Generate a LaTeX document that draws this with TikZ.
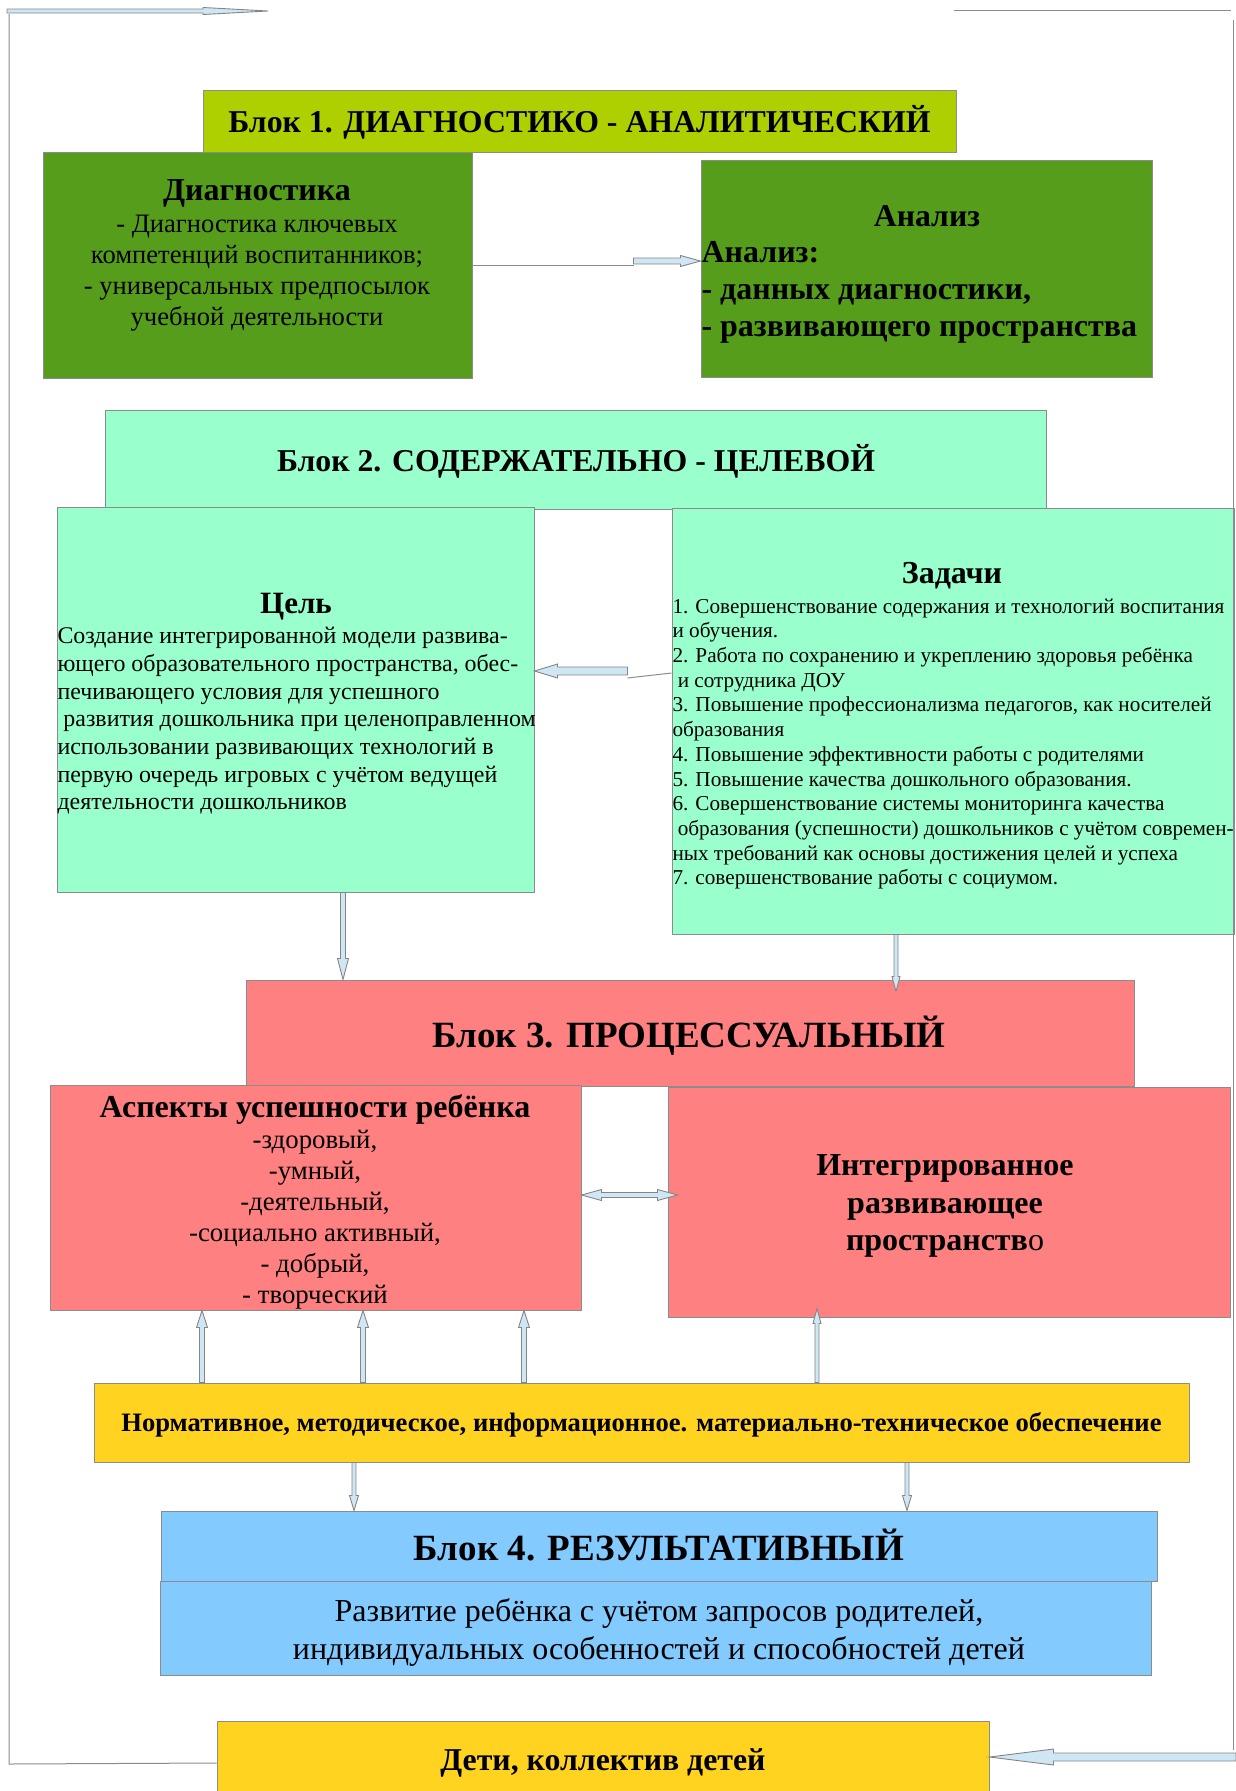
\documentclass[tikz,border=0pt]{standalone}
\usepackage{fontspec}
\setmainfont{Liberation Serif}
\usetikzlibrary{calc}

\definecolor{blockone}{HTML}{AECF00}
\definecolor{diaggreen}{HTML}{579D1C}
\definecolor{mint}{HTML}{99FFCC}
\definecolor{rose}{HTML}{FF8080}
\definecolor{gold}{HTML}{FFD320}
\definecolor{sky}{HTML}{83CAFF}
\definecolor{boxline}{HTML}{8C8C8C}
\definecolor{arrowfill}{HTML}{CFE7F5}
\definecolor{arrowline}{HTML}{858585}

\tikzset{
  box/.style={draw=boxline, line width=1pt, inner sep=0pt, anchor=center},
  conn/.style={draw=boxline, line width=1pt},
  arrowbody/.style={draw=arrowline, fill=arrowfill, line width=0.9pt, line join=miter},
  lbl/.style={inner sep=0pt, anchor=center},
}

% block arrow: start, end, half shaft, half head, head length
\newcommand{\fatarrow}[5]{%
  \path (#1) coordinate (fa-s) (#2) coordinate (fa-e);
  \coordinate (fa-h) at ($(fa-e)!#5!(fa-s)$);
  \draw[arrowbody] ($(fa-s)!#3!90:(fa-e)$) -- ($(fa-h)!#3!-90:(fa-s)$)
    -- ($(fa-h)!#4!-90:(fa-s)$) -- (fa-e) -- ($(fa-h)!#4!90:(fa-s)$)
    -- ($(fa-h)!#3!90:(fa-s)$) -- ($(fa-s)!#3!-90:(fa-e)$) -- cycle;
}
% same with two heads
\newcommand{\fatdarrow}[5]{%
  \path (#1) coordinate (fa-s) (#2) coordinate (fa-e);
  \coordinate (fa-h) at ($(fa-e)!#5!(fa-s)$);
  \coordinate (fa-g) at ($(fa-s)!#5!(fa-e)$);
  \draw[arrowbody] ($(fa-g)!#3!90:(fa-e)$) -- ($(fa-h)!#3!-90:(fa-s)$)
    -- ($(fa-h)!#4!-90:(fa-s)$) -- (fa-e) -- ($(fa-h)!#4!90:(fa-s)$)
    -- ($(fa-h)!#3!90:(fa-s)$) -- ($(fa-g)!#3!-90:(fa-e)$)
    -- ($(fa-g)!#4!-90:(fa-e)$) -- (fa-s) -- ($(fa-g)!#4!90:(fa-e)$) -- cycle;
}

\begin{document}
\begin{tikzpicture}[x=1pt, y=-1pt, line width=1pt]

    \useasboundingbox (0,0) rectangle (1235,1791);

    % Block 1
    \node[box, fill=blockone, minimum width=753pt, minimum height=62pt] (blk1) at (579.5,121) {};
    \node[box, fill=diaggreen, minimum width=429pt, minimum height=226pt] (diag) at (257.5,265) {};
    \node[box, fill=diaggreen, minimum width=451pt, minimum height=217pt] (anal) at (926.5,268.5) {};

    % Block 2
    \node[box, fill=mint, minimum width=941pt, minimum height=99pt] (blk2) at (575.5,459.5) {};
    \node[box, fill=mint, minimum width=477pt, minimum height=385pt] (goal) at (295.5,699.5) {};
    \node[box, fill=mint, minimum width=562pt, minimum height=426pt] (tasks) at (953,721) {};

    % Block 3
    \node[box, fill=rose, minimum width=888pt, minimum height=106pt] (blk3) at (690,1033) {};
    \node[box, fill=rose, minimum width=531pt, minimum height=225pt] (aspects) at (315.5,1197.5) {};
    \node[box, fill=rose, minimum width=562pt, minimum height=230pt] (space) at (949,1202) {};

    % Support
    \node[box, fill=gold, minimum width=1095pt, minimum height=79pt] (support) at (641.5,1422.5) {};

    % Block 4
    \node[box, fill=sky, minimum width=996pt, minimum height=70pt] (blk4) at (659,1546) {};
    \node[box, fill=sky, minimum width=991pt, minimum height=94pt] (result) at (655.5,1628) {};

    % Children
    \node[box, fill=gold, minimum width=772pt, minimum height=76pt] (kids) at (603,1759) {};

    % Labels
    \node[lbl, font=\bfseries\fontsize{31.8}{36}\selectfont] (blk1txt) at (579.5,122) {Блок 1. ДИАГНОСТИКО - АНАЛИТИЧЕСКИЙ};
    \node[lbl, font=\bfseries\fontsize{32}{36}\selectfont] (diagttl) at (257,193) {Диагностика};
    \node[lbl, align=center, font=\fontsize{26.6}{31}\selectfont] (diagtxt) at (257,273.5)
        {- Диагностика ключевых\\компетенций воспитанников;\\- универсальных предпосылок\\учебной деятельности};
    \node[lbl, font=\bfseries\fontsize{31.7}{36}\selectfont] (analttl) at (927,216) {Анализ};
    \node[lbl, anchor=west, align=left, font=\bfseries\fontsize{32}{37}\selectfont] (analtxt) at (701,292.5)
        {Анализ:\\- данных диагностики,\\- развивающего пространства};

    \node[lbl, font=\bfseries\fontsize{31.8}{36}\selectfont] (blk2txt) at (576,461) {Блок 2. СОДЕРЖАТЕЛЬНО - ЦЕЛЕВОЙ};
    \node[lbl, font=\bfseries\fontsize{31}{35}\selectfont] (goalttl) at (296,606.5) {Цель};
    \node[lbl, anchor=west, align=left, font=\fontsize{23.9}{27.7}\selectfont] (goaltxt) at (57,721)
        {Создание интегрированной модели развива-\\ющего образовательного пространства, обес-\\печивающего условия для успешного\\\hspace{0.25em}развития дошкольника при целеноправленном\\использовании развивающих технологий в\\первую очередь игровых с учётом ведущей\\деятельности дошкольников};
    \node[lbl, font=\bfseries\fontsize{32}{36}\selectfont] (tasksttl) at (952,576) {Задачи};
    \node[lbl, anchor=west, align=left, font=\fontsize{21.2}{24.7}\selectfont] (taskstxt) at (672,744)
        {1. Совершенствование содержания и технологий воспитания\\и обучения.\\2. Работа по сохранению и укреплению здоровья ребёнка\\\hspace{0.25em}и сотрудника ДОУ\\3. Повышение профессионализма педагогов, как носителей\\образования\\4. Повышение эффективности работы с родителями\\5. Повышение качества дошкольного образования.\\6. Совершенствование системы мониторинга качества\\\hspace{0.25em}образования (успешности) дошкольников с учётом современ-\\ных требований как основы достижения целей и успеха\\7. совершенствование работы с социумом.};

    \node[lbl, font=\bfseries\fontsize{37}{40}\selectfont] (blk3txt) at (689,1036) {Блок 3. ПРОЦЕССУАЛЬНЫЙ};
    \node[lbl, font=\bfseries\fontsize{32}{36}\selectfont] (aspttl) at (315,1109) {Аспекты успешности ребёнка};
    \node[lbl, align=center, font=\fontsize{26.8}{31}\selectfont] (asptxt) at (315,1220)
        {-здоровый,\\-умный,\\-деятельный,\\-социально активный,\\- добрый,\\- творческий};
    \node[lbl, align=center, font=\bfseries\fontsize{32}{37.5}\selectfont] (spacetxt) at (945,1206)
        {Интегрированное\\развивающее\\пространств{\mdseries о}};

    \node[lbl, font=\bfseries\fontsize{26.6}{30}\selectfont] (supporttxt) at (641.5,1425) {Нормативное, методическое, информационное. материально-техническое обеспечение};

    \node[lbl, font=\bfseries\fontsize{37}{40}\selectfont] (blk4txt) at (659,1545) {Блок 4. РЕЗУЛЬТАТИВНЫЙ};
    \node[lbl, align=center, font=\fontsize{32}{38}\selectfont] (resulttxt) at (659,1632)
        {Развитие ребёнка с учётом запросов родителей,\\индивидуальных особенностей и способностей детей};
    \node[lbl, font=\bfseries\fontsize{31.8}{36}\selectfont] (kidstxt) at (603,1763) {Дети, коллектив детей};

    % Arrows inside block 1
    \coordinate (d1) at ($(anal.west)+(-67,-3.5)$);
    \coordinate (d2) at ($(anal.west)+(-67,-7.5)$);
    \draw[conn] (diag.east) -- (d1);
    \fatarrow{d2}{d2 -| anal.west}{3pt}{5.5pt}{20pt}

    % Arrows inside block 2
    \coordinate (t1) at ($(tasks.west)+(0,-48)$);
    \coordinate (t2) at ($(tasks.west)+(-44,-43)$);
    \coordinate (t3) at ($(tasks.west)+(-44,-50)$);
    \draw[conn] (t1) -- (t2);
    \fatarrow{t3}{t3 -| goal.east}{4pt}{7pt}{23pt}

    % Block 2 to block 3
    \coordinate (g1) at ($(goal.south)+(47.5,0)$);
    \fatarrow{g1}{g1 |- blk3.north}{2.5pt}{5.5pt}{21pt}
    \coordinate (k1) at ($(tasks.south)+(-57,0)$);
    \fatarrow{k1}{$(k1 |- blk3.north)+(0,12)$}{2pt}{4pt}{15pt}

    % Inside block 3
    \coordinate (a1) at ($(aspects.east)+(0,-2.5)$);
    \fatdarrow{a1}{$(a1 -| space.west)+(10,0)$}{2.5pt}{5.5pt}{20pt}

    % Support up and down
    \foreach \dx in {-439.5,-278.5,-117.5} {
        \path ($(support.north)+(\dx,0)$) coordinate (sa);
        \fatarrow{sa}{sa |- aspects.south}{2.5pt}{5.5pt}{17pt}
    }
    \coordinate (s1) at ($(support.north)+(175.5,0)$);
    \fatarrow{s1}{$(s1 |- space.south)+(0,-9)$}{2pt}{4pt}{15pt}
    \foreach \dx in {-287.5,265.5} {
        \path ($(support.south)+(\dx,0)$) coordinate (sb);
        \fatarrow{sb}{sb |- blk4.north}{2pt}{4.5pt}{15pt}
    }

    % Loop round the scheme
    \coordinate (lpbl) at (9,1764);
    \coordinate (lptl) at (9,14);
    \coordinate (lpa) at (7,11);
    \coordinate (lpb) at (268,11);
    \coordinate (lptr) at (954,10);
    \coordinate (lpr) at (1231,10);
    \coordinate (lprt) at (1233,20);
    \coordinate (lprb) at (1233,1750);
    \coordinate (lpin) at (1236,1757);
    \draw[conn] ($(kids.west)+(0,4)$) -- (lpbl) -- (lptl);
    \fatarrow{lpa}{lpb}{2pt}{3.5pt}{65pt}
    \draw[conn] (lptr) -- (lpr);
    \draw[conn] (lprt) -- (lprb);
    \fatarrow{lpin}{lpin -| kids.east}{4pt}{8pt}{64pt}

\end{tikzpicture}
\end{document}
